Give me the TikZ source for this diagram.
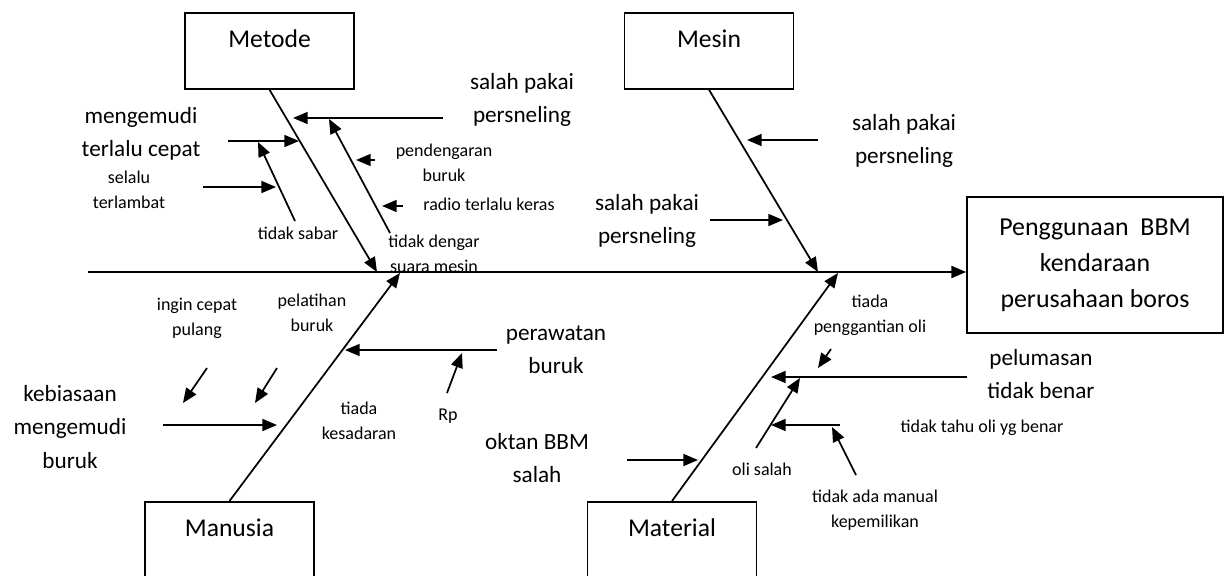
\documentclass[tikz,border=0pt]{standalone}
\usepackage{fontspec}
\setmainfont{Carlito}
\usetikzlibrary{arrows.meta}
\begin{document}
\begin{tikzpicture}[x=0.75pt,y=-0.75pt,
  ln/.style={line width=1.3pt,draw=black},
  arr/.style={ln,-{Triangle[length=11pt,width=9pt]}},
  catbox/.style={draw=black,line width=1.3pt,anchor=north,minimum width=126.75pt,
     inner xsep=0pt,inner ysep=0pt,text height=26pt,text depth=31pt,
     font=\fontsize{19.2}{23}\selectfont},
  resbox/.style={draw=black,line width=1.3pt,minimum width=192pt,minimum height=102pt,
     align=center,inner sep=0pt,font=\fontsize{19.4}{27}\selectfont},
  mid/.style={align=center,inner sep=0pt,font=\fontsize{17.4}{25}\selectfont},
  sml/.style={align=center,inner sep=0pt,font=\fontsize{13.5}{18.75}\selectfont}]
\useasboundingbox (0,0) rectangle (1226,575);
\clip (0,0) rectangle (1226,575);

% category boxes
\node[catbox] (metode) at (269.5,12) {Metode};
\node[catbox] (mesin) at (709,12) {Mesin};
\node[catbox] (manusia) at (229.5,501) {Manusia};
\node[catbox] (material) at (672,501) {Material};

% result
\node[resbox] (res) at (1095,265) {Penggunaan\ \ BBM\\kendaraan\\perusahaan boros};

% spine
\coordinate (sp0) at (88,272);
\draw[arr] (sp0) -- (sp0 -| res.west);

% bones
\coordinate (jMet) at (377,272);
\coordinate (jMes) at (818,272);
\coordinate (jMan) at (400,273);
\coordinate (jMat) at (838,273);
\draw[arr] (metode.south) -- (jMet);
\draw[arr] (mesin.south) -- (jMes);
\draw[arr] (manusia.north) -- (jMan);
\draw[arr] (material.north) -- (jMat);

% Metode causes
\coordinate (a1s) at (443,118); \coordinate (a1e) at (293,118);
\coordinate (a2s) at (228,141); \coordinate (a2e) at (299,141);
\coordinate (a3s) at (203,187); \coordinate (a3e) at (276,187);
\coordinate (a4s) at (295,221); \coordinate (a4e) at (258,142);
\coordinate (a5s) at (390,233); \coordinate (a5e) at (329,119);
\coordinate (a6s) at (375,160); \coordinate (a6e) at (356,160);
\coordinate (a7s) at (403,206); \coordinate (a7e) at (382,206);
\foreach \i in {1,...,7}{\draw[arr] (a\i s) -- (a\i e);}

\node[mid] (tSalah1) at (522,100) {salah pakai\\persneling};
\node[mid] (tMeng) at (141,134) {mengemudi\\terlalu cepat};
\node[sml] (tSelalu) at (129,190) {selalu\\terlambat};
\node[sml] (tSabar) at (298,233) {tidak sabar};
\node[sml] (tDengar) at (434,254) {tidak dengar\\suara mesin};
\node[sml] (tPend) at (444,163) {pendengaran\\buruk};
\node[sml] (tRadio) at (489,204) {radio terlalu keras};

% Mesin causes
\coordinate (b1s) at (818,140); \coordinate (b1e) at (747,140);
\coordinate (b2s) at (710,220); \coordinate (b2e) at (783,220);
\draw[arr] (b1s) -- (b1e);
\draw[arr] (b2s) -- (b2e);
\node[mid] (tSalah2) at (904,141) {salah pakai\\persneling};
\node[mid] (tSalah3) at (647,221) {salah pakai\\persneling};

% Manusia causes
\coordinate (c1s) at (497,350); \coordinate (c1e) at (345,350);
\coordinate (c2s) at (447,393); \coordinate (c2e) at (462,353);
\coordinate (c3s) at (163,425); \coordinate (c3e) at (277,425);
\coordinate (c4s) at (207,368); \coordinate (c4e) at (183,403);
\coordinate (c5s) at (277,368); \coordinate (c5e) at (255,403);
\foreach \i in {1,...,5}{\draw[arr] (c\i s) -- (c\i e);}
\node[mid] (tRawat) at (556,350) {perawatan\\buruk};
\node[sml] (tRp) at (448,416) {Rp};
\node[mid] (tKebi) at (70,427) {kebiasaan\\mengemudi\\buruk};
\node[sml] (tIngin) at (197,318) {ingin cepat\\pulang};
\node[sml] (tLatih) at (312,313) {pelatihan\\buruk};
\node[sml] (tSadar) at (359,421) {tiada\\kesadaran};

% Material causes
\coordinate (d1s) at (627,460); \coordinate (d1e) at (698,460);
\coordinate (d2s) at (967,377); \coordinate (d2e) at (771,377);
\coordinate (d3s) at (831,349); \coordinate (d3e) at (818,368);
\coordinate (d4s) at (756,448); \coordinate (d4e) at (800,378);
\coordinate (d5s) at (840,425); \coordinate (d5e) at (771,425);
\coordinate (d6s) at (856,475); \coordinate (d6e) at (832,427);
\foreach \i in {1,...,6}{\draw[arr] (d\i s) -- (d\i e);}
\node[mid] (tOktan) at (537,458) {oktan BBM\\salah};
\node[mid] (tLumas) at (1041,374) {pelumasan\\tidak benar};
\node[sml] (tGanti) at (870,315) {tiada\\penggantian oli};
\node[sml] (tOli) at (762,469) {oli salah};
\node[sml] (tTahu) at (982,428) {tidak tahu oli yg benar};
\node[sml] (tManual) at (875,510) {tidak ada manual\\kepemilikan};
\end{tikzpicture}
\end{document}
